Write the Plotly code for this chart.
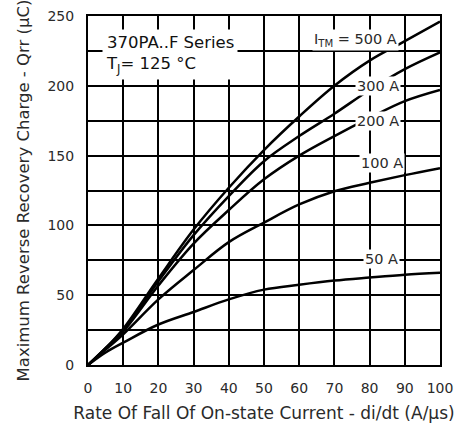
import plotly.graph_objects as go

di_dt = [0, 5, 10, 20, 30, 40, 50, 60, 70, 80, 90, 100]
q_500 = [0, 12, 26, 62, 97, 127, 154, 178, 200, 218, 232, 246]
q_300 = [0, 12, 25, 60, 93, 121, 146, 164, 180, 197, 212, 224]
q_200 = [0, 12, 24, 57, 87, 111, 133, 150, 164, 177, 189, 197]
q_100 = [0, 11, 22, 47, 68, 88, 102, 115, 124.5, 130.5, 136, 141]
q_50 = [0, 9, 16, 29, 38, 47, 54, 57.5, 60.5, 62.7, 64.7, 66]

series = [q_500, q_300, q_200, q_100, q_50]

x_ticks = list(range(0, 101, 10))
y_ticks = list(range(0, 251, 50))

FONT = "DejaVu Sans"
TXT = "#2a2a2a"

fig = go.Figure()
for s in series:
    fig.add_trace(go.Scatter(x=di_dt, y=s, mode="lines", line=dict(color="black", width=2.5, shape="spline"),
                             showlegend=False, hoverinfo="skip"))

labels = [
    ("I<sub>TM</sub> = 500 A", 76, 233),
    ("300 A", 82.5, 200),
    ("200 A", 82.5, 175),
    ("100 A", 83.5, 145),
    ("50 A", 83.5, 76),
]
for text, xv, yv in labels:
    fig.add_annotation(x=xv, y=yv, text=text, showarrow=False, bgcolor="white",
                       font=dict(family=FONT, size=14.5, color=TXT), borderpad=1)

fig.add_annotation(x=4, y=222.5, xanchor="left", yanchor="middle", align="left",
                   text="370PA..F Series<br>T<sub>J</sub>= 125 °C", showarrow=False, bgcolor="white",
                   font=dict(family=FONT, size=16.5, color="#111"), borderpad=3)

grid = dict(showgrid=True, gridcolor="black", gridwidth=1.5)
fig.update_xaxes(range=[0, 100], tickvals=x_ticks, **grid,
                 showline=True, linecolor="black", linewidth=2, mirror=True, zeroline=False,
                 ticks="", ticklabelstandoff=9, automargin=False,
                 tickfont=dict(family=FONT, size=14, color=TXT),
                 title=dict(text="Rate Of Fall Of On-state Current - di/dt (A/μs)",
                            font=dict(family=FONT, size=17, color=TXT), standoff=12))
fig.update_yaxes(range=[0, 250], tickvals=y_ticks, **grid,
                 minor=dict(dtick=25, showgrid=True, gridcolor="black", gridwidth=1.5, ticks=""),
                 showline=True, linecolor="black", linewidth=2, mirror=True, zeroline=False,
                 ticks="", ticklabelstandoff=9, automargin=False,
                 tickfont=dict(family=FONT, size=14, color=TXT),
                 title=dict(text="Maximum Reverse Recovery Charge - Qrr (μC)",
                            font=dict(family=FONT, size=16.5, color=TXT), standoff=14))

fig.update_layout(width=456, height=432, margin=dict(l=88, r=16, t=16, b=67),
                  plot_bgcolor="white", paper_bgcolor="white")

fig.write_html("out.html", config={"displayModeBar": False},
               post_script="document.body.style.margin='0';")
